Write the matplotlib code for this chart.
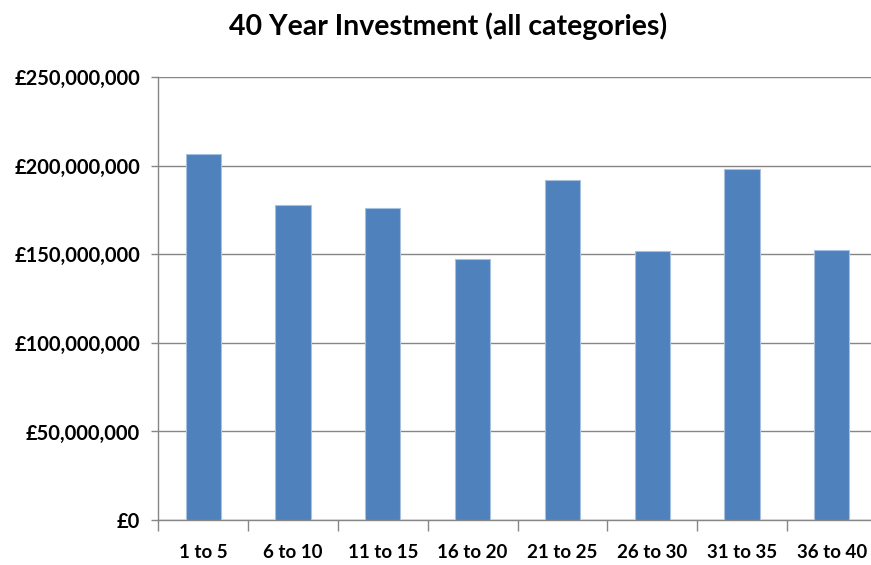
import matplotlib
matplotlib.use("Agg")
import matplotlib.pyplot as plt
import matplotlib.ticker as pltTicker

# Investment per 5-year block
categories = ["1 to 5", "6 to 10", "11 to 15", "16 to 20",
              "21 to 25", "26 to 30", "31 to 35", "36 to 40"]
investment = [206.4e6, 178.0e6, 176.0e6, 147.5e6,
              191.9e6, 151.7e6, 198.1e6, 152.3e6]
y_ticks = [0, 50e6, 100e6, 150e6, 200e6, 250e6]

plt.rcParams["font.family"] = ["Lato", "DejaVu Sans"]

W, H, DPI = 871, 565, 100
fig = plt.figure(figsize=(W / DPI, H / DPI), dpi=DPI)

# plot area in pixels; the right edge runs slightly past the canvas
left, right, top, bottom = 158.3, 158.3 + 8 * 89.8, 77.0, 520.1
ax = fig.add_axes([left / W, (H - bottom) / H, (right - left) / W, (bottom - top) / H])

grid_col = "#868686"
x = range(len(categories))
ax.bar(x, investment, width=0.39, color="#4F81BD", edgecolor="#A7C0DE",
       linewidth=0.8, zorder=3)

ax.set_xlim(-0.5, len(categories) - 0.5)
ax.set_ylim(0, 250e6)

ax.set_yticks(y_ticks)
ax.yaxis.set_major_formatter(pltTicker.FuncFormatter(lambda v, _: f"£{v:,.0f}"))
ax.grid(axis="y", color=grid_col, linewidth=1.0, zorder=0)

# category labels centred, ticks on the boundaries
ax.set_xticks([i for i in x])
ax.set_xticklabels(categories)
ax.xaxis.set_minor_locator(pltTicker.FixedLocator([i - 0.5 for i in x]))
ax.tick_params(axis="x", which="major", length=0, pad=17, labelsize=13.5)
ax.tick_params(axis="x", which="minor", length=8, width=1, color=grid_col)
ax.tick_params(axis="y", length=5, width=1, color=grid_col, pad=8, labelsize=14.5)
for lbl in ax.get_xticklabels() + ax.get_yticklabels():
    lbl.set_fontweight("bold")

for side in ("top", "right"):
    ax.spines[side].set_visible(False)
for side in ("left", "bottom"):
    ax.spines[side].set_color(grid_col)
    ax.spines[side].set_linewidth(1.0)

fig.text(448 / W, 1 - 26 / H, "40 Year Investment (all categories)",
         ha="center", va="center", fontsize=20.5, fontweight="bold")

fig.savefig("out.png", dpi=DPI)
